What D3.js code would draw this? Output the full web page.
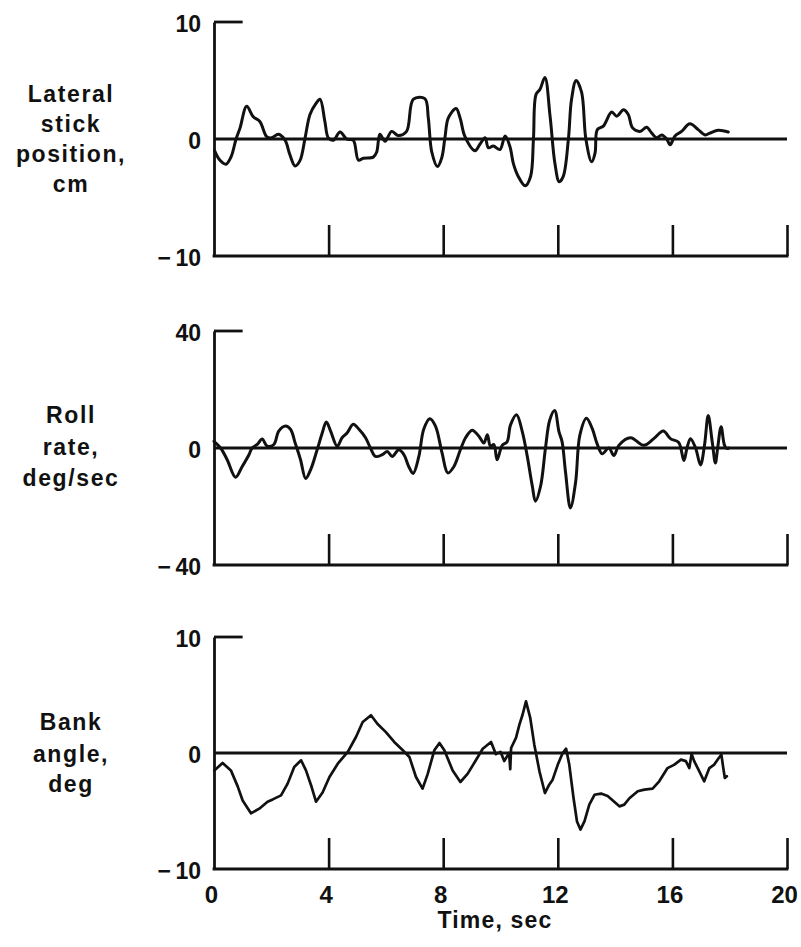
<!DOCTYPE html>
<html>
<head>
<meta charset="utf-8">
<script src="https://cdn.jsdelivr.net/npm/d3@7"></script>
<style>
  html, body { margin: 0; padding: 0; background: #fff; }
  svg { display: block; }
  text { font-family: "Liberation Sans", Arial, Helvetica, sans-serif; font-weight: bold; fill: #111; }
</style>
</head>
<body>
<svg id="chart" width="801" height="947"></svg>
<script>
// ---------------- DATA ----------------
const timeTicks = [0, 4, 8, 12, 16, 20];
const timeLabel = "Time, sec";

const stickTitle = ["Lateral", "stick", "position,", "cm"];
const stickTicks = [10, 0, -10];
// [time (sec), lateral stick position (cm)]
const stickSeries = [
  [0.02,-1.0],[0.2,-1.8],[0.42,-2.15],[0.6,-1.5],[0.77,0],[0.91,0.95],[1.14,2.8],[1.37,1.9],
  [1.6,1.5],[1.84,0.2],[2.0,0.1],[2.25,0.4],[2.48,-0.1],[2.65,-1.35],[2.83,-2.3],[3.0,-1.85],
  [3.18,0.1],[3.35,2.1],[3.55,3.0],[3.7,3.4],[3.87,1.5],[3.99,0.1],[4.17,-0.1],[4.4,0.6],
  [4.63,0.0],[4.86,-0.1],[5.04,-1.8],[5.21,-1.65],[5.56,-1.55],[5.68,-1.1],[5.79,0.4],[5.97,-0.2],
  [6.2,0.65],[6.43,0.3],[6.72,0.65],[6.96,3.4],[7.36,3.45],[7.48,1.8],[7.6,-1.1],[7.8,-2.35],
  [7.95,-1.6],[8.06,0.1],[8.18,1.8],[8.45,2.6],[8.59,1.8],[8.76,0.2],[9.11,-1.0],[9.28,-0.45],
  [9.46,0.1],[9.58,-0.75],[9.75,-0.6],[9.98,-0.9],[10.16,0.25],[10.33,-0.65],[10.45,-2.1],[10.62,-3.2],
  [10.86,-4.0],[11.05,-3.2],[11.15,0],[11.24,3.8],[11.38,4.25],[11.55,5.25],[11.73,1.95],[11.9,-2.1],
  [12.05,-3.65],[12.19,-3.2],[12.37,0],[12.48,3.4],[12.64,5.0],[12.83,4.0],[12.98,0],[13.18,-1.95],
  [13.3,-1.2],[13.38,0.8],[13.59,1.1],[13.88,2.3],[14.06,1.95],[14.29,2.5],[14.46,2.1],[14.61,0.95],
  [14.87,0.65],[15.1,1.0],[15.28,0.5],[15.45,0.1],[15.63,0.35],[15.8,0],[15.92,-0.5],[16.09,0.25],
  [16.32,0.65],[16.61,1.3],[16.9,0.8],[17.14,0.35],[17.31,0.5],[17.6,0.75],[17.95,0.6]
];

const rollTitle = ["Roll", "rate,", "deg/sec"];
const rollTicks = [40, 0, -40];
// [time (sec), roll rate (deg/sec)]
const rollSeries = [
  [0.0,2.3],[0.23,0],[0.46,-4],[0.75,-10],[0.98,-6.4],[1.22,-2.3],[1.33,0],[1.51,1.2],[1.68,3.1],
  [1.86,0.6],[2.09,1.2],[2.26,5.8],[2.5,7.5],[2.67,6.4],[2.84,1.5],[3.02,-4],[3.2,-10.4],[3.37,-7.5],
  [3.6,-0.6],[3.78,5.2],[3.92,8.9],[4.07,5.8],[4.3,0.6],[4.47,3.5],[4.65,5.2],[4.86,8.1],[5.06,6.4],
  [5.29,3.5],[5.46,0],[5.64,-2.9],[5.87,-2.3],[6.05,-1.2],[6.22,-2.9],[6.45,-0.6],[6.63,-2.3],[6.8,-6.4],
  [6.95,-8.7],[7.15,-2.9],[7.32,6.4],[7.53,10],[7.73,7.5],[7.96,-1.7],[8.16,-8.5],[8.37,-6.4],[8.6,-0.6],
  [8.78,3.5],[9.01,6.1],[9.24,4.1],[9.42,1.7],[9.54,4.5],[9.65,0.6],[9.77,1.2],[9.88,-4.0],[10.06,0.9],
  [10.23,2.1],[10.35,7.9],[10.56,11.4],[10.76,5.6],[10.93,-2.6],[11.11,-13],[11.22,-18.2],[11.4,-13],
  [11.57,0],[11.72,9.6],[11.89,12.8],[12.04,5.6],[12.15,2.1],[12.27,-8.3],[12.44,-20.5],[12.62,-11.8],
  [12.77,4.4],[13.0,10.2],[13.2,6.7],[13.37,1.5],[13.55,-2.0],[13.78,0],[13.96,-2.6],[14.13,0.9],
  [14.54,3.5],[15.0,0.9],[15.35,3.2],[15.68,5.8],[15.93,3.2],[16.22,1.9],[16.4,-4.3],[16.51,0],
  [16.63,3.2],[16.81,0],[16.98,-5.8],[17.12,0.9],[17.25,11.1],[17.39,2.1],[17.5,-5.1],[17.58,0],
  [17.7,7.3],[17.82,0.9],[17.91,-0.2],[17.97,0]
];

const bankTitle = ["Bank", "angle,", "deg"];
const bankTicks = [10, 0, -10];
// [time (sec), bank angle (deg)]
const bankSeries = [
  [0.01,-1.5],[0.3,-0.86],[0.59,-1.5],[0.83,-2.9],[1.0,-4.1],[1.29,-5.2],[1.58,-4.8],[1.87,-4.2],
  [2.05,-4.0],[2.34,-3.65],[2.57,-2.64],[2.8,-1.2],[3.04,-0.63],[3.21,-1.5],[3.39,-2.8],[3.56,-4.2],
  [3.79,-3.4],[4.03,-2.07],[4.32,-0.92],[4.67,0.09],[4.96,1.4],[5.19,2.67],[5.48,3.25],[5.71,2.5],
  [6.0,1.8],[6.29,0.95],[6.59,0.23],[6.82,-0.34],[7.05,-2.07],[7.28,-3.07],[7.46,-1.8],[7.69,0.23],
  [7.87,0.86],[8.04,0.23],[8.33,-1.5],[8.6,-2.5],[8.85,-1.8],[9.14,-0.63],[9.38,0.37],[9.67,0.95],
  [9.84,-0.1],[10.0,0.1],[10.13,-0.7],[10.3,0],[10.34,-1.4],[10.37,0.43],[10.54,1.3],[10.66,2.44],
  [10.77,3.3],[10.89,4.45],[11.04,3.0],[11.18,0.72],[11.36,-1.58],[11.55,-3.45],[11.7,-2.73],[11.82,-2.3],
  [12.0,-1.0],[12.17,0],[12.29,0.37],[12.4,-1.0],[12.55,-3.9],[12.67,-5.9],[12.79,-6.6],[12.93,-5.9],
  [13.1,-4.45],[13.28,-3.6],[13.51,-3.5],[13.74,-3.7],[13.97,-4.2],[14.15,-4.6],[14.32,-4.45],[14.5,-3.9],
  [14.79,-3.3],[15.02,-3.16],[15.31,-3.07],[15.54,-2.44],[15.83,-1.3],[16.07,-1.0],[16.3,-0.57],[16.47,-0.7],
  [16.59,-1.3],[16.67,-0.09],[16.76,-0.7],[16.94,-1.58],[17.11,-2.44],[17.29,-1.3],[17.46,-1.0],[17.6,-0.5],
  [17.71,-0.14],[17.77,-1.2],[17.83,-2.15],[17.9,-2.0]
];

// ---------------- LAYOUT ----------------
const svg = d3.select("#chart");
const ink = "#111";
const x = d3.scaleLinear().domain([0, 20]).range([214, 787]);

const panels = [
  { top: 22,  bottom: 256, ticks: stickTicks, title: stickTitle, titleBase: [102, 132, 162, 192],
    data: stickSeries, curve: d3.curveCatmullRom.alpha(0.5), width: 3, showX: false },
  { top: 331, bottom: 565, ticks: rollTicks, title: rollTitle, titleBase: [423, 455, 486],
    data: rollSeries, curve: d3.curveCatmullRom.alpha(0.5), width: 3, showX: false },
  { top: 637, bottom: 869, ticks: bankTicks, title: bankTitle, titleBase: [730, 762, 792],
    data: bankSeries, curve: d3.curveLinear, width: 2.7, showX: true }
];

const fmt = d => d < 0 ? "\u2212\u2009" + Math.abs(d) : String(d);

panels.forEach(p => {
  const y = d3.scaleLinear()
    .domain([p.ticks[2], p.ticks[0]])
    .range([p.bottom, p.top]);

  const g = svg.append("g");

  // left axis with value labels
  const ax = g.append("g")
    .attr("transform", `translate(${x(0)},0)`)
    .call(d3.axisLeft(y).tickValues(p.ticks).tickSize(0).tickPadding(13).tickFormat(fmt));
  ax.select(".domain").attr("stroke", ink).attr("stroke-width", 2.8);
  ax.selectAll("text")
    .attr("font-size", 23)
    .attr("font-family", "'Liberation Sans', Arial, sans-serif")
    .attr("font-weight", "bold")
    .attr("fill", ink)
    .attr("dy", "0.42em");

  // short top tick
  g.append("line")
    .attr("x1", x(0)).attr("x2", x(1))
    .attr("y1", y(p.ticks[0])).attr("y2", y(p.ticks[0]))
    .attr("stroke", ink).attr("stroke-width", 2.8);

  // bottom time axis with upward ticks
  const bx = g.append("g")
    .attr("transform", `translate(0,${p.bottom})`)
    .call(d3.axisBottom(x)
      .tickValues(p.showX ? timeTicks : timeTicks.slice(1))
      .tickSizeInner(-31).tickSizeOuter(0).tickPadding(17)
      .tickFormat(p.showX ? d3.format("d") : () => ""));
  bx.select(".domain").attr("stroke", ink).attr("stroke-width", 2.8)
    .attr("d", `M${x(0) - 1.4},0H${x(20) + 1.4}`);
  bx.selectAll(".tick line").attr("stroke", ink).attr("stroke-width", 2.6)
    .filter(d => d === 0).remove();
  bx.selectAll("text")
    .attr("font-size", 24)
    .attr("font-family", "'Liberation Sans', Arial, sans-serif")
    .attr("font-weight", "bold")
    .attr("fill", ink)
    .attr("dx", -3);

  // zero line
  g.append("line")
    .attr("x1", x(0)).attr("x2", x(20))
    .attr("y1", y(0)).attr("y2", y(0))
    .attr("stroke", ink).attr("stroke-width", 2.8);

  // data trace
  const line = d3.line().x(d => x(d[0])).y(d => y(d[1])).curve(p.curve);
  g.append("path")
    .datum(p.data)
    .attr("d", line)
    .attr("fill", "none")
    .attr("stroke", ink)
    .attr("stroke-width", p.width)
    .attr("stroke-linejoin", "round")
    .attr("stroke-linecap", "round");

  // panel title
  g.append("g").selectAll("text")
    .data(p.title)
    .join("text")
    .attr("x", 71)
    .attr("y", (d, i) => p.titleBase[i])
    .attr("text-anchor", "middle")
    .attr("font-size", 23)
    .attr("letter-spacing", "1.6px")
    .text(d => d);
});

svg.append("text")
  .attr("x", 495)
  .attr("y", 928)
  .attr("text-anchor", "middle")
  .attr("font-size", 23)
  .attr("letter-spacing", "1.2px")
  .text(timeLabel);
</script>
</body>
</html>
